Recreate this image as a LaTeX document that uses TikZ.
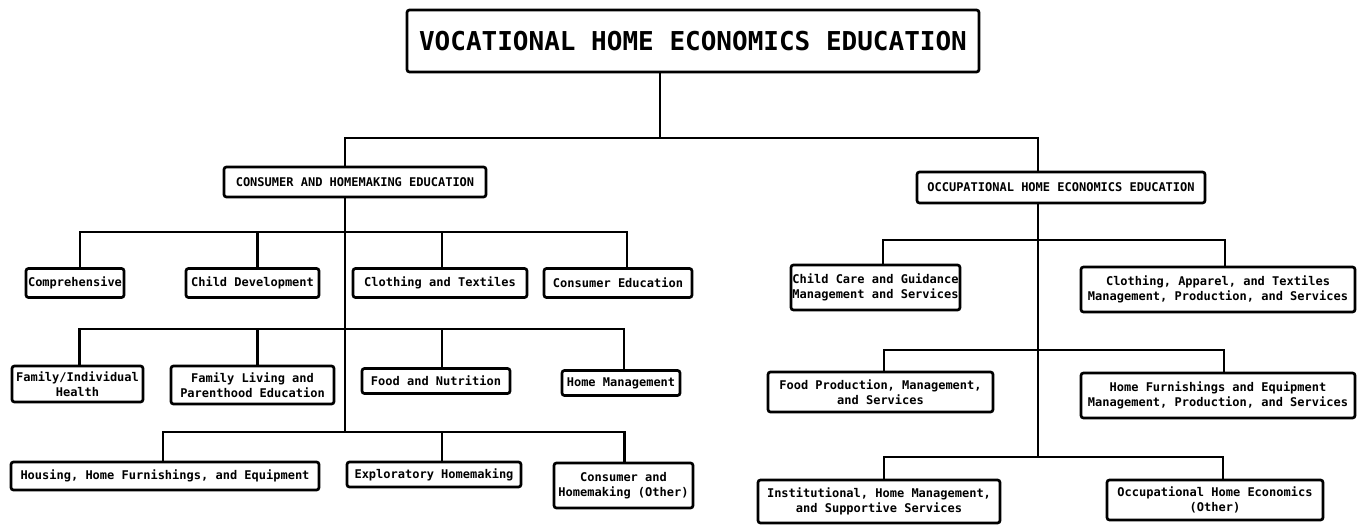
\documentclass[tikz,border=0pt]{standalone}
\usepackage{fontspec}
\newfontfamily\plotfont{DejaVu Sans Mono}
\tikzset{
  box/.style={draw, line width=2.7pt, rounded corners=2.5pt, inner sep=1pt, align=center,
    font=\plotfont\bfseries\fontsize{12}{14.5}\selectfont},
  titlebox/.style={box, font=\plotfont\bfseries\fontsize{26}{30}\selectfont},
  conn/.style={line width=2.8pt}
}
\begin{document}
\begin{tikzpicture}[x=1pt,y=-1pt]
\useasboundingbox (0,0) rectangle (1357,526);
% top
\node[titlebox, minimum width=572, minimum height=62] (top) at (693,41) {VOCATIONAL HOME ECONOMICS EDUCATION};
\node[box, minimum width=262, minimum height=30] (cons) at (355,182) {CONSUMER AND HOMEMAKING EDUCATION};
\node[box, minimum width=288, minimum height=31] (occ) at (1061,187.5) {OCCUPATIONAL HOME ECONOMICS EDUCATION};
% left row 1
\node[box, minimum width=98, minimum height=29] (comp) at (75,283) {Comprehensive};
\node[box, minimum width=133, minimum height=29] (cdev) at (252.5,283) {Child Development};
\node[box, minimum width=174, minimum height=29] (clot) at (440,283) {Clothing and Textiles};
\node[box, minimum width=148, minimum height=29] (cedu) at (618,283) {Consumer Education};
% left row 2
\node[box, minimum width=131, minimum height=36] (fih) at (77.5,384) {Family/Individual\\Health};
\node[box, minimum width=163, minimum height=38] (fliv) at (252.5,385) {Family Living and\\Parenthood Education};
\node[box, minimum width=148, minimum height=25] (fnut) at (436,381) {Food and Nutrition};
\node[box, minimum width=118, minimum height=25] (hman) at (621,383) {Home Management};
% left row 3
\node[box, minimum width=308, minimum height=28] (hous) at (165,476) {Housing, Home Furnishings, and Equipment};
\node[box, minimum width=174, minimum height=25] (expl) at (434,474.5) {Exploratory Homemaking};
\node[box, minimum width=139, minimum height=45] (chom) at (623.5,485.5) {Consumer and\\Homemaking (Other)};
% right rows
\node[box, minimum width=169, minimum height=45] (ccare) at (875.5,287.5) {Child Care and Guidance\\Management and Services};
\node[box, minimum width=274, minimum height=45] (capp) at (1218,289.5) {Clothing, Apparel, and Textiles\\Management, Production, and Services};
\node[box, minimum width=225, minimum height=40] (fprod) at (880.5,392) {Food Production, Management,\\and Services};
\node[box, minimum width=274, minimum height=45] (hfurn) at (1218,395.5) {Home Furnishings and Equipment\\Management, Production, and Services};
\node[box, minimum width=242, minimum height=43] (inst) at (879,501.5) {Institutional, Home Management,\\and Supportive Services};
\node[box, minimum width=216, minimum height=40] (ohe) at (1215,500) {Occupational Home Economics\\(Other)};
% bus coordinates
\coordinate (b0) at (660,138);
\coordinate (r1) at (345,232);
\coordinate (r2) at (345,329);
\coordinate (r3) at (345,432);
\coordinate (q1) at (1038,240);
\coordinate (q2) at (1038,350);
\coordinate (q3) at (1038,457);
% top connectors
\draw[conn] (top.south -| b0) -- (b0);
\draw[conn] ([xshift=-10]cons.north) |- (b0);
\draw[conn] (occ.north -| q1) |- (b0);
% left spine
\draw[conn] (cons.south -| r1) -- (r3);
\draw[conn] ([xshift=5]comp.north) |- (r1);
\draw[conn] ([xshift=5]cdev.north) |- (r1);
\draw[conn] ([xshift=2]clot.north) |- (r1);
\draw[conn] ([xshift=9]cedu.north) |- (r1);
\draw[conn] ([xshift=2]fih.north) |- (r2);
\draw[conn] ([xshift=5]fliv.north) |- (r2);
\draw[conn] ([xshift=6]fnut.north) |- (r2);
\draw[conn] ([xshift=3]hman.north) |- (r2);
\draw[conn] ([xshift=-2]hous.north) |- (r3);
\draw[conn] ([xshift=8]expl.north) |- (r3);
\draw[conn] ([xshift=1]chom.north) |- (r3);
% right spine
\draw[conn] (occ.south -| q1) -- (q3);
\draw[conn] ([xshift=7.5]ccare.north) |- (q1);
\draw[conn] ([xshift=7]capp.north) |- (q1);
\draw[conn] ([xshift=3.5]fprod.north) |- (q2);
\draw[conn] ([xshift=6]hfurn.north) |- (q2);
\draw[conn] ([xshift=5]inst.north) |- (q3);
\draw[conn] ([xshift=8]ohe.north) |- (q3);
\end{tikzpicture}
\end{document}
